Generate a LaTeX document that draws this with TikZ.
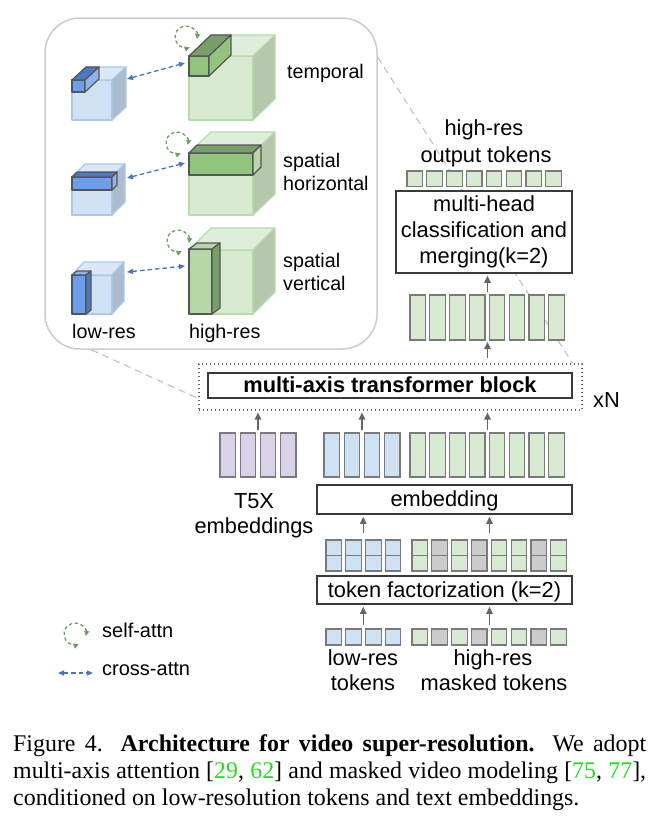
\documentclass[tikz,border=0pt]{standalone}
\usepackage{fontspec}
\setmainfont{Liberation Serif}
\setsansfont{Liberation Sans}
\usetikzlibrary{arrows.meta,calc}
\definecolor{lblue}{HTML}{CFE2F3}
\definecolor{lgreen}{HTML}{D9EAD3}
\definecolor{lpurple}{HTML}{D9D2E9}
\definecolor{mgray}{HTML}{CCCCCC}
\definecolor{tokgray}{HTML}{7A7A7A}
\definecolor{boxgray}{HTML}{3A3A3A}
\definecolor{arrgray}{HTML}{666666}
\definecolor{linkgray}{HTML}{BDBDBD}
\definecolor{panelgray}{HTML}{CCCCCC}
\definecolor{bedge}{HTML}{A9C8EC}
\definecolor{bfront}{HTML}{CFE2F3}
\definecolor{btop}{HTML}{DAE8F5}
\definecolor{bside}{HTML}{AABCCE}
\definecolor{gedge}{HTML}{B9DAAB}
\definecolor{gfront}{HTML}{D9EAD3}
\definecolor{gtop}{HTML}{DFEEDA}
\definecolor{gside}{HTML}{B5C8AC}
\definecolor{barblue}{HTML}{6D9EEB}
\definecolor{barbluedk}{HTML}{4C79C2}
\definecolor{barbluelt}{HTML}{8DB3EF}
\definecolor{bargreen}{HTML}{93C47D}
\definecolor{bargreendk}{HTML}{7A9E69}
\definecolor{bargreenlt}{HTML}{B6D7A8}
\definecolor{baredge}{HTML}{555555}
\definecolor{selfgreen}{HTML}{6F9F5F}
\definecolor{crossblue}{HTML}{4D72B8}
\definecolor{citegreen}{HTML}{22DD22}
\newcommand\fmain{\sffamily\fontsize{21.8}{26}\selectfont}
\newcommand\finset{\sffamily\fontsize{19.7}{23}\selectfont}
\newcommand\flegend{\sffamily\fontsize{20}{24}\selectfont}
% prism: x, y (front top-left), w, h, dx, dy(up), front, top, side
\newcommand\prism[9]{%
 \filldraw[fill=#7] (#1,#2) rectangle ++(#3,#4);
 \filldraw[fill=#8] (#1,#2) -- ++(#5,-#6) -- ++(#3,0) -- ++(-#5,#6) -- cycle;
 \filldraw[fill=#9] ({#1+#3},#2) -- ++(#5,-#6) -- ++(0,#4) -- ++(-#5,#6) -- cycle;}
\tikzset{
 tok/.style={draw=tokgray, line width=1.1pt},
 bx/.style={draw=boxgray, line width=1.5pt, fill=white, inner sep=0pt, font=\fmain},
 one/.style={text height=14pt, text depth=0pt},
 arr/.style={draw=arrgray, line width=1.3pt, -{Triangle[length=7pt,width=6.5pt]}},
 link/.style={draw=linkgray, line width=1pt, dash pattern=on 7pt off 5pt},
 selfloop/.style={draw=selfgreen, line width=1.3pt, dash pattern=on 3.5pt off 2.5pt,
   {Triangle[length=5pt,width=5pt]}-{Triangle[length=5pt,width=5pt]}},
 crossatt/.style={draw=crossblue, line width=1.3pt, dash pattern=on 4.5pt off 3pt,
   {Triangle[length=6pt,width=5pt]}-{Triangle[length=6pt,width=5pt]}},
 txt/.style={inner sep=0pt, anchor=base},
 cubeb/.style={draw=bedge, line width=1.2pt, line join=round},
 cubeg/.style={draw=gedge, line width=1.2pt, line join=round},
 barst/.style={draw=baredge, line width=1.2pt, line join=round},
}
\begin{document}
\begin{tikzpicture}[x=1pt,y=-1pt]
\useasboundingbox (0,0) rectangle (667,825);
\fill[white] (0,0) rectangle (667,825);

% inset panel and dotted block
\node[draw=panelgray, line width=1.5pt, rounded corners=35pt, fill=white,
      minimum width=332pt, minimum height=331pt, inner sep=0pt] (panel) at (211,183.5) {};
\node[draw=arrgray, line width=1.2pt, dash pattern=on 1.3pt off 2.7pt,
      minimum width=383pt, minimum height=46pt, inner sep=0pt] (dotbox) at (390.5,387) {};
\draw[link] ($(panel.south west)+(47,0)$) -- ($(dotbox.south west)+(0,-12)$);
\draw[link] ($(panel.north east)+(0,40)$) -- ($(dotbox.north east)+(-10,0)$);

% ---- inset: cubes ----
\begin{scope}[cubeb]
 \prism{72}{80}{40}{40}{14}{13}{bfront}{btop}{bside}
 \prism{72}{177}{40}{38}{13}{13}{bfront}{btop}{bside}
 \prism{72}{275}{40}{39}{12}{13}{bfront}{btop}{bside}
\end{scope}
\begin{scope}[cubeg]
 \prism{189}{56}{64}{64}{22}{21}{gfront}{gtop}{gside}
 \prism{189}{153}{64}{62}{22}{21}{gfront}{gtop}{gside}
 \prism{189}{250}{64}{64}{22}{22}{gfront}{gtop}{gside}
\end{scope}
\begin{scope}[barst]
 \prism{72}{80}{13}{12}{14}{13}{barblue}{barbluedk}{barbluelt}
 \prism{72}{177}{40}{13}{5}{5}{barblue}{barbluedk}{barbluelt}
 \prism{72}{275}{14}{39}{5}{4}{barblue}{barbluelt}{barbluedk}
 \prism{189}{56}{20}{20}{22}{21}{bargreen}{bargreendk}{bargreen}
 \prism{189}{153}{64}{22}{8}{8}{bargreen}{bargreendk}{bargreenlt}
 \prism{189}{249}{23}{65}{8}{6}{bargreenlt}{bargreenlt}{bargreendk}
\end{scope}

% attention connectors in the inset
\coordinate (lr1) at (127,79);  \coordinate (hr1) at (185,63);
\coordinate (lr2) at (127,178); \coordinate (hr2) at (185,163);
\coordinate (lr3) at (127,272); \coordinate (hr3) at (185,266);
\draw[crossatt] (lr1) -- (hr1);
\draw[crossatt] (lr2) -- (hr2);
\draw[crossatt] (lr3) -- (hr3);
\coordinate (sa1) at (186,37);
\coordinate (sa2) at (177,143);
\coordinate (sa3) at (178,241);
\draw[selfloop] (sa1) ++(10:11) arc[start angle=10, end angle=-290, radius=11];
\draw[selfloop] (sa2) ++(10:11) arc[start angle=10, end angle=-290, radius=11];
\draw[selfloop] (sa3) ++(10:11) arc[start angle=10, end angle=-290, radius=11];

% inset labels
\node[txt, anchor=base west, font=\finset] (ltemp) at (287,78) {temporal};
\node[txt, anchor=base west, font=\finset] (lsh1) at (283,167) {spatial};
\node[txt, anchor=base west, font=\finset] (lsh2) at (283,190) {horizontal};
\node[txt, anchor=base west, font=\finset] (lsv1) at (283,267) {spatial};
\node[txt, anchor=base west, font=\finset] (lsv2) at (283,290) {vertical};
\node[txt, anchor=base west, font=\finset] (llow) at (72,338) {low-res};
\node[txt, anchor=base west, font=\finset] (lhigh) at (189,338) {high-res};

% ---- right: output ----
\node[txt, font=\fmain] (ohr) at (484,135) {high-res};
\node[txt, font=\fmain] (oot) at (486,162) {output tokens};
\foreach \i in {0,...,7} \draw[tok, fill=lgreen] ({407+\i*19.83},171) rectangle ++(15.5,15.5);
\node[bx, minimum width=176pt, minimum height=82pt, align=center] (mh) at (484,232)
  {multi-head\\classification and\\merging(k=2)};
\foreach \i in {0,...,7} \draw[tok, fill=lgreen] ({410+\i*19.83},295) rectangle ++(15.5,45);
\coordinate (tallT) at (487.5,295);
\coordinate (tallB) at (487.5,340);
\draw[arr, shorten <=3pt, shorten >=2pt] (tallT) -- (tallT |- mh.south);
\draw[arr, shorten <=5pt, shorten >=2pt] (tallB |- dotbox.north) -- (tallB);

% transformer block
\node[bx, one, minimum width=364pt, minimum height=25pt, font=\fmain\bfseries] (mab) at (390,385.5)
  {multi-axis transformer block};
\node[txt, anchor=base west, font=\fmain] (xn) at (593,407) {xN};

% embeddings
\foreach \i in {0,...,3} \draw[tok, fill=lpurple] ({220+\i*20.17},433) rectangle ++(15.5,44);
\foreach \i in {0,...,3} \draw[tok, fill=lblue] ({324+\i*20.17},433) rectangle ++(15.5,44);
\foreach \i in {0,...,7} \draw[tok, fill=lgreen] ({410+\i*19.83},433) rectangle ++(15.5,44);
\coordinate (purT) at (258,433);
\coordinate (bluT) at (362,433);
\coordinate (grnT) at (487.5,433);
\foreach \cc in {purT,bluT,grnT} \draw[arr, shorten <=3pt, shorten >=2pt] (\cc) -- (\cc |- dotbox.south);
\node[txt, font=\fmain] (t5a) at (254,508) {T5X};
\node[txt, font=\fmain] (t5b) at (254,533) {embeddings};
\node[bx, one, minimum width=255pt, minimum height=29pt] (emb) at (444.5,499.5) {embedding};

% factorized tokens
\foreach \i in {0,...,3} {
  \draw[tok, fill=lblue] ({326+\i*19.8},540) rectangle ++(15.5,31);
  \draw[tok] ({326+\i*19.8},555.5) -- ++(15.5,0);}
\foreach \cc [count=\i from 0] in {lgreen,mgray,lgreen,mgray,lgreen,lgreen,mgray,lgreen} {
  \draw[tok, fill=\cc] ({412+\i*19.83},540) rectangle ++(15.5,31);
  \draw[tok] ({412+\i*19.83},555.5) -- ++(15.5,0);}
\coordinate (fbT) at (363.2,540);
\coordinate (fgT) at (489.5,540);
\draw[arr, shorten <=7pt, shorten >=2pt] (fbT) -- (fbT |- emb.south);
\draw[arr, shorten <=7pt, shorten >=2pt] (fgT) -- (fgT |- emb.south);
\node[bx, one, minimum width=255pt, minimum height=28pt] (tf) at (444.5,590) {token factorization (k=2)};

% input tokens
\foreach \i in {0,...,3} \draw[tok, fill=lblue] ({326+\i*19.8},629) rectangle ++(15.5,16);
\foreach \cc [count=\i from 0] in {lgreen,mgray,lgreen,mgray,lgreen,lgreen,mgray,lgreen}
  \draw[tok, fill=\cc] ({412+\i*19.83},629) rectangle ++(15.5,16);
\coordinate (tbT) at (363.2,629);
\coordinate (tgT) at (489.5,629);
\draw[arr, shorten <=4pt, shorten >=2pt] (tbT) -- (tbT |- tf.south);
\draw[arr, shorten <=4pt, shorten >=2pt] (tgT) -- (tgT |- tf.south);
\node[txt, font=\fmain] (ilr1) at (363,665) {low-res};
\node[txt, font=\fmain] (ilr2) at (363,690) {tokens};
\node[txt, font=\fmain] (ihr1) at (493,665) {high-res};
\node[txt, font=\fmain] (ihr2) at (494,690) {masked tokens};

% legend
\coordinate (lgs) at (75,634);
\draw[selfloop] (lgs) ++(10:11) arc[start angle=10, end angle=-290, radius=11];
\coordinate (lgc1) at (58,673);
\coordinate (lgc2) at (93,673);
\draw[crossatt] (lgc1) -- (lgc2);
\node[txt, anchor=base west, font=\flegend] (lself) at (102,637) {self-attn};
\node[txt, anchor=base west, font=\flegend] (lcross) at (102,675) {cross-attn};

% caption
\node[anchor=base west, inner sep=0pt] (cap) at (13,751) {\parbox[t]{633pt}{%
  \fontsize{23.9}{27.3}\selectfont\rmfamily\hyphenpenalty=10000
  Figure 4. \textbf{Architecture for video super-resolution.} We adopt\linebreak
  multi-axis attention [\textcolor{citegreen}{29}, \textcolor{citegreen}{62}] and masked video modeling [\textcolor{citegreen}{75}, \textcolor{citegreen}{77}],\linebreak
  conditioned on low-resolution tokens and text embeddings.}};
\end{tikzpicture}
\end{document}
